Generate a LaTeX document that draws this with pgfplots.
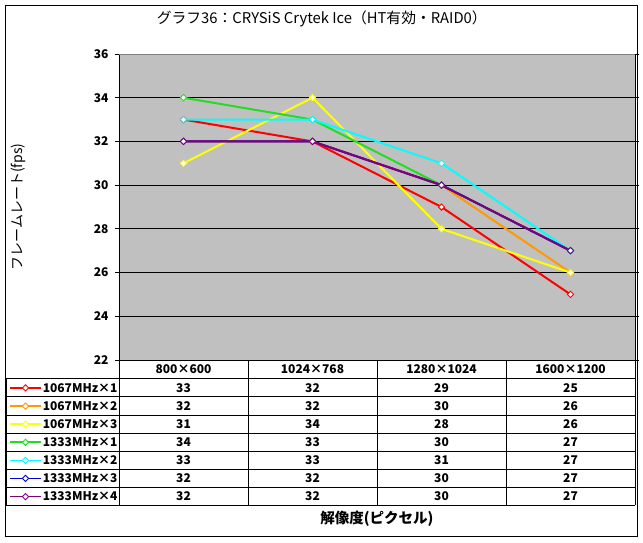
\documentclass[border=0pt]{standalone}
\usepackage{fontspec}
\setmainfont{Noto Sans CJK JP}
\usepackage{pgfplots}
\pgfplotsset{compat=1.18}
\definecolor{cRed}{HTML}{FF0000}
\definecolor{cOrange}{HTML}{FF9900}
\definecolor{cYellow}{HTML}{FFFF00}
\definecolor{cGreen}{HTML}{22DD22}
\definecolor{cCyan}{HTML}{00FFFF}
\definecolor{cBlue}{HTML}{0000CC}
\definecolor{cPurple}{HTML}{800080}
\definecolor{bgGray}{HTML}{C0C0C0}
\newcommand\fs{\fontsize{12}{12}\selectfont}
\begin{document}
\begin{tikzpicture}[x=1pt,y=1pt]
\path[use as bounding box] (0,0) rectangle (643,542);
\fill[white] (0,0) rectangle (643,542);
\draw[black, line width=0.8pt] (5,6) rectangle (637,537);
\begin{axis}[
  at={(119pt,182pt)}, anchor=south west,
  x=129pt, y=21.857pt,
  xmin=-0.5, xmax=3.5, ymin=22, ymax=36,
  ytick={22,24,...,36},
  xtick=\empty,
  ymajorgrids, grid style={black, line width=0.8pt},
  axis background/.style={fill=bgGray},
  axis line style={black, line width=0.8pt},
  tick align=outside, major tick length=4pt, tick style={black, line width=0.8pt},
  yticklabel style={font=\bfseries\fs, xshift=-3pt},
  /pgf/number format/assume math mode=true,
  title={グラフ36：CRYSiS Crytek Ice（HT有効・RAID0）},
  title style={at={(axis description cs:0.393,1.0948)}, anchor=center, font=\fontsize{14.8}{15}\selectfont},
  ylabel={フレームレート(fps)},
  ylabel style={at={(axis description cs:-0.1957,0.5)}, anchor=center, font=\fontsize{14}{14}\selectfont},
  xlabel={解像度(ピクセル)},
  xlabel style={at={(axis description cs:0.5,-0.5196)}, anchor=center, font=\bfseries\fontsize{14.5}{14.5}\selectfont},
  every axis plot/.append style={line width=2pt, mark=square*, mark size=2.2pt, mark options={solid, rotate=45, fill=white, line width=0.9pt}},
  legend image code/.code={\draw[mark repeat=2,mark phase=2,#1, line width=1.6pt] plot coordinates {(0pt,0pt) (15.5pt,0pt) (31pt,0pt)};},
  legend cell align=left,
  legend style={at={(axis description cs:-0.21318,-0.06111)}, anchor=north west, draw=none, fill=none, inner sep=0pt, row sep=0pt, column sep=1pt, font=\bfseries\fs, nodes={inner sep=0pt, text height=13.35pt, text depth=4.75pt, anchor=west}},
]
\addplot[cRed] coordinates {(0,33)(1,32)(2,29)(3,25)};
\addlegendentry{1067MHz×1}
\addplot[cOrange] coordinates {(0,32)(1,32)(2,30)(3,26)};
\addlegendentry{1067MHz×2}
\addplot[cYellow] coordinates {(0,31)(1,34)(2,28)(3,26)};
\addlegendentry{1067MHz×3}
\addplot[cGreen] coordinates {(0,34)(1,33)(2,30)(3,27)};
\addlegendentry{1333MHz×1}
\addplot[cCyan] coordinates {(0,33)(1,33)(2,31)(3,27)};
\addlegendentry{1333MHz×2}
\addplot[cBlue] coordinates {(0,32)(1,32)(2,30)(3,27)};
\addlegendentry{1333MHz×3}
\addplot[cPurple] coordinates {(0,32)(1,32)(2,30)(3,27)};
\addlegendentry{1333MHz×4}
\end{axis}
\draw[gray, line width=0.8pt] (119,488) -- (635,488);
\foreach \yy in {163.3,145.2,127.1,109.0,90.9,72.8,54.7,36.6} {\draw[black, line width=0.8pt] (6,\yy) -- (635,\yy);}
\draw[black, line width=0.8pt] (6,163.3) -- (6,36.6);
\foreach \xx in {119,248,377,506,635} {\draw[black, line width=0.8pt] (\xx,182) -- (\xx,36.6);}
\foreach \h [count=\c] in {800×600,1024×768,1280×1024,1600×1200} {
  \node[anchor=base, font=\bfseries\fs, inner sep=0pt] at ({183.5+129*(\c-1)},168.35) {\h};
}
\foreach \vals [count=\r] in {{33,32,29,25},{32,32,30,26},{31,34,28,26},{34,33,30,27},{33,33,31,27},{32,32,30,27},{32,32,30,27}} {
  \foreach \v [count=\c] in \vals {
    \node[anchor=base, font=\bfseries\fs, inner sep=0pt] at ({183.5+129*(\c-1)},{163.3-18.1*\r+9.05-4.3}) {\v};
  }
}
\end{tikzpicture}
\end{document}
